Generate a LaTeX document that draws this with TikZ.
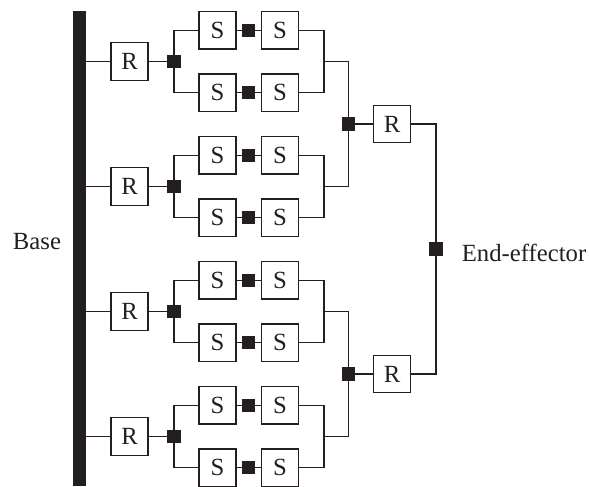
\documentclass[tikz,border=0pt]{standalone}
\usepackage{fontspec}
\setmainfont{Liberation Serif}
\definecolor{ink}{RGB}{35,31,32}
\tikzset{
  box/.style={draw=ink, line width=1.3pt, minimum width=37pt, minimum height=37.5pt,
    inner sep=0pt, fill=white, text=ink, font=\fontsize{24.7}{24.7}\selectfont},
  jn/.style={fill=ink, minimum size=13.3pt, inner sep=0pt},
  wire/.style={line width=1.1pt, draw=ink},
  lbl/.style={inner sep=0pt, text=ink, font=\fontsize{24.7}{24.7}\selectfont}
}
\begin{document}
\begin{tikzpicture}[x=1pt,y=-1pt]
\useasboundingbox (0,0) rectangle (589,487);
\fill[ink] (73,11) rectangle (86,486);
\foreach \i/\y in {1/61.5, 2/186.5, 3/311.5, 4/436.5}{
  \coordinate (B\i) at (86,\y);
  \coordinate (M\i) at (324,\y);
  \node[box] (R\i) at (129.5,\y) {R};
  \node[jn] (J\i) at (174,\y) {};
  \node[box] (Sa\i) at (217.5,{\y-31.25}) {S};
  \node[jn] (Ka\i) at (248.5,{\y-31.25}) {};
  \node[box] (Ta\i) at (280,{\y-31.25}) {S};
  \node[box] (Sb\i) at (217.5,{\y+31.25}) {S};
  \node[jn] (Kb\i) at (248.5,{\y+31.25}) {};
  \node[box] (Tb\i) at (280,{\y+31.25}) {S};
  \draw[wire] (B\i) -- (R\i);
  \draw[wire] (R\i) -- (J\i);
  \draw[wire] (J\i.center) |- (Sa\i.west);
  \draw[wire] (J\i.center) |- (Sb\i.west);
  \draw[wire] (Sa\i) -- (Ka\i) -- (Ta\i);
  \draw[wire] (Sb\i) -- (Kb\i) -- (Tb\i);
  \draw[wire] (Ta\i.east) -| (M\i);
  \draw[wire] (Tb\i.east) -| (M\i);
}
\node[jn] (P1) at (348.5,124) {};
\node[jn] (P2) at (348.5,374) {};
\node[box] (Q1) at (392,124) {R};
\node[box] (Q2) at (392,374) {R};
\node[jn] (E) at (436,249) {};
\draw[wire] (M1) -| (P1.center);
\draw[wire] (M2) -| (P1.center);
\draw[wire] (M3) -| (P2.center);
\draw[wire] (M4) -| (P2.center);
\draw[wire] (P1) -- (Q1);
\draw[wire] (P2) -- (Q2);
\draw[wire] (Q1.east) -| (E.center);
\draw[wire] (Q2.east) -| (E.center);
\node[lbl, anchor=base] (base) at (37,249.3) {Base};
\node[lbl, anchor=base west] (ee) at (461.7,261.7) {End-effector};
\end{tikzpicture}
\end{document}
